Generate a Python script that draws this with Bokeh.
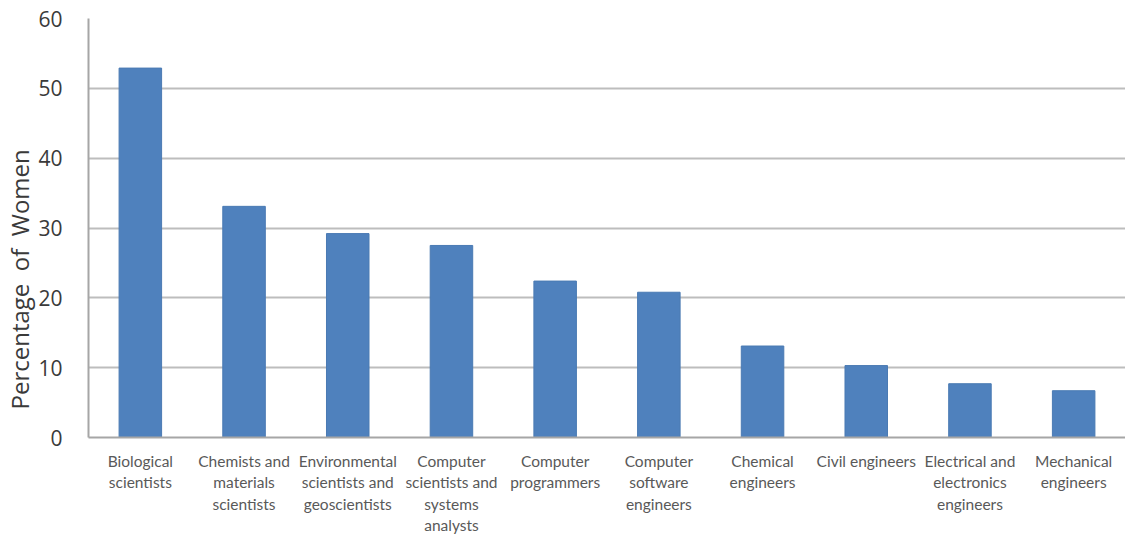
from bokeh.plotting import figure
from bokeh.models import Title, FixedTicker
from bokeh.embed import file_html
from bokeh.resources import INLINE

categories = [
    "Biological\nscientists",
    "Chemists and\nmaterials\nscientists",
    "Environmental\nscientists and\ngeoscientists",
    "Computer\nscientists and\nsystems\nanalysts",
    "Computer\nprogrammers",
    "Computer\nsoftware\nengineers",
    "Chemical\nengineers",
    "Civil engineers",
    "Electrical and\nelectronics\nengineers",
    "Mechanical\nengineers",
]
percent_women = [52.9, 33.1, 29.2, 27.5, 22.4, 20.8, 13.1, 10.3, 7.7, 6.7]
y_ticks = [0, 10, 20, 30, 40, 50, 60]

p = figure(
    width=1125, height=537, x_range=categories, y_range=(0, 60),
    output_backend="svg", toolbar_location=None,
    min_border_left=10, min_border_right=0, min_border_top=18, min_border_bottom=5,
    outline_line_color=None, background_fill_color="white",
)
p.vbar(x=categories, top=percent_women, width=0.41,
       fill_color="#4f81bd", line_color="#4a7ab3", line_width=1)

p.x_range.range_padding = 0
p.xgrid.grid_line_color = None
p.ygrid.grid_line_color = "#bdbdbd"
p.ygrid.grid_line_width = 2
p.yaxis.ticker = FixedTicker(ticks=y_ticks)
p.yaxis.axis_line_color = "#a6a6a6"
p.yaxis.axis_line_width = 2
p.yaxis.major_tick_line_color = None
p.yaxis.minor_tick_line_color = None
p.yaxis.major_label_text_font = "Open Sans"
p.yaxis.major_label_text_font_size = "21px"
p.yaxis.major_label_text_color = "#3a3a3a"
p.yaxis.major_label_standoff = 20

p.xaxis.axis_line_color = "#a6a6a6"
p.xaxis.axis_line_width = 2
p.xaxis.major_tick_line_color = None
p.xaxis.minor_tick_line_color = None
p.xaxis.major_label_text_font = "Lato"
p.xaxis.major_label_text_font_size = "15.5px"
p.xaxis.major_label_text_color = "#595959"
p.xaxis.major_label_text_line_height = 1.2
p.xaxis.major_label_standoff = 8

p.add_layout(Title(text="Percentage\u00a0\u00a0of\u00a0\u00a0Women", align="left", offset=28,
                   text_font="Open Sans", text_font_size="24px", text_font_style="normal",
                   text_color="#3a3a3a", standoff=0), "left")

open("out.html", "w").write(file_html(p, INLINE))
